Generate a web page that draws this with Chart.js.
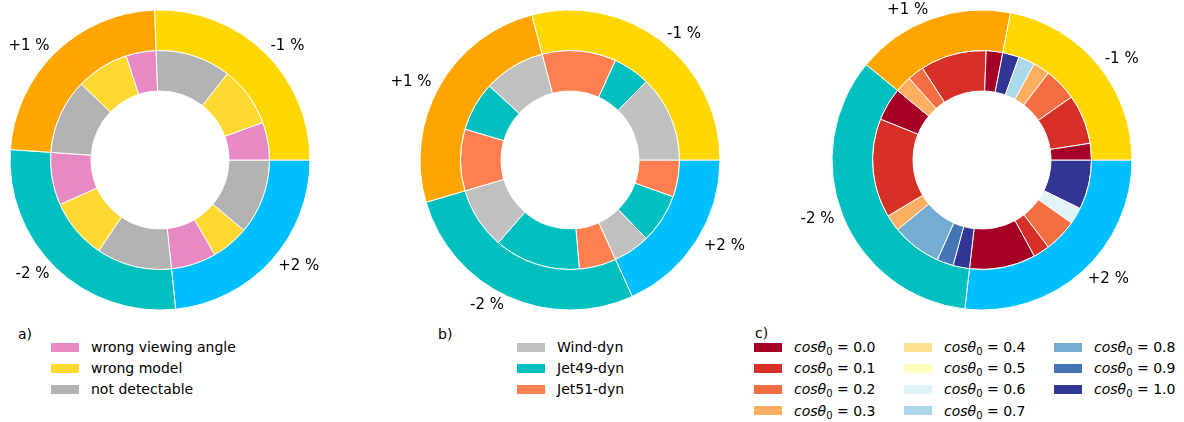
<!DOCTYPE html>
<html>
<head>
<meta charset="utf-8">
<script src="https://cdn.jsdelivr.net/npm/chart.js@4.4.0/dist/chart.umd.min.js"></script>
<style>
body{margin:0;width:1184px;height:422px;overflow:hidden;background:#fff;position:relative;
  font-family:"DejaVu Sans",sans-serif;color:#000}
canvas{position:absolute;top:0}
.tag,.txt{position:absolute;font-size:14px;line-height:16px;white-space:nowrap}
.sw{position:absolute;width:28px;height:9px}
.sub{font-size:10px;position:relative;top:3px}
</style>
</head>
<body>
<canvas id="pie-a" width="400" height="320" style="left:-40px"></canvas>
<canvas id="pie-b" width="400" height="320" style="left:370px"></canvas>
<canvas id="pie-c" width="400" height="320" style="left:782px"></canvas>
<div class="tag" style="left:18px;top:326px">a)</div>
<div class="tag" style="left:438px;top:326px">b)</div>
<div class="tag" style="left:755px;top:325px">c)</div>
<div id="legends"></div>
<script>
// outer ring: flux shift, same order for every panel (counter-clockwise from 3 o'clock)
const shiftLabels=['-1 %','+1 %','-2 %','+2 %'];
const shiftColors=['#FFD700','#FFA500','#00BFBF','#00BFFF'];

// a) why a shift was missed, counts per shift
const failLabels=['wrong viewing angle','wrong model','not detectable'];
const failColors=['#E78AC3','#FFD92F','#B3B3B3'];
const failAngle=[5,4,7,6];
const failModel=[8,7,8,5];
const failNone=[10,10,10,10];

// b) model of the best fit, counts per shift (drawn wind, jet49, jet51)
const modelLabels=['Wind-dyn','Jet49-dyn','Jet51-dyn'];
const modelColors=['#C0C0C0','#00BFBF','#FF7F50'];
const windDyn=[7,5,5,3];
const jet49Dyn=[3,4,7,4];
const jet51Dyn=[6,5,3,3];

// c) viewing angle, counts per shift for cos(theta0)=0.0 ... 1.0
const cosValues=['0.0','0.1','0.2','0.3','0.4','0.5','0.6','0.7','0.8','0.9','1.0'];
const cosColors=['#a50026','#d73027','#f46d43','#fdae61','#fee090','#ffffbf','#e0f3f8','#abd9e9','#74add1','#4575b4','#313695'];
const cosMinus1=[1,3,2,1,0,0,0,1,0,0,1];
const cosPlus1 =[1,4,1,1,0,0,0,0,0,0,0];
const cosMinus2=[2,6,0,1,0,0,0,0,3,1,1];
const cosPlus2 =[4,1,2,0,0,0,1,0,0,0,3];

// shift labels just outside the outer ring
const ringLabels={
  id:'ringLabels',
  afterDraw(chart){
    let ctx=chart.ctx, meta=chart.getDatasetMeta(0);
    ctx.save();
    ctx.font='15px "DejaVu Sans"'; ctx.fillStyle='#000'; ctx.textBaseline='middle';
    meta.data.forEach((arc,i)=>{
      let p=arc.getProps(['x','y','startAngle','endAngle','outerRadius']);
      let mid=(p.startAngle+p.endAngle)/2, r=p.outerRadius*1.06;
      ctx.textAlign=Math.cos(mid)>0?'left':'right';
      ctx.fillText(chart.data.labels[i], p.x+r*Math.cos(mid), p.y+r*Math.sin(mid));
    });
    ctx.restore();
  }
};

// rows[shift][category] -> inner ring; outer ring is the row sums
function makeRing(id, rows, colors){
  let outer=rows.map(r=>r.reduce((a,b)=>a+b,0));
  let inner=[], innerCol=[];
  rows.forEach(r=>r.forEach((v,j)=>{ if(v>0){ inner.push(v); innerCol.push(colors[j]); } }));
  // chart.js runs clockwise from 12 o'clock, so flip order and start at 3 o'clock
  return new Chart(document.getElementById(id),{
    type:'doughnut',
    data:{
      labels:[...shiftLabels].reverse(),
      datasets:[
        {data:outer.reverse(), backgroundColor:[...shiftColors].reverse()},
        {data:inner.reverse(), backgroundColor:innerCol.reverse()}
      ]
    },
    options:{
      responsive:false, animation:false, events:[],
      radius:150, cutout:'46%', rotation:90,
      borderColor:'#fff', borderWidth:1,
      plugins:{legend:{display:false}, tooltip:{enabled:false}}
    },
    plugins:[ringLabels]
  });
}

let zip=(...cols)=>shiftLabels.map((s,i)=>cols.map(c=>c[i]));
makeRing('pie-a', zip(failAngle,failModel,failNone), failColors);
makeRing('pie-b', zip(windDyn,jet49Dyn,jet51Dyn), modelColors);
makeRing('pie-c', [cosMinus1,cosPlus1,cosMinus2,cosPlus2], cosColors);

// legends
let legendBox=document.getElementById('legends');
function addItem(x, y, color, html){
  let sw=document.createElement('div'); sw.className='sw';
  sw.style.left=x+'px'; sw.style.top=(y-4.5)+'px'; sw.style.background=color;
  let t=document.createElement('div'); t.className='txt';
  t.style.left=(x+40)+'px'; t.style.top=(y-8)+'px'; t.innerHTML=html;
  legendBox.appendChild(sw); legendBox.appendChild(t);
}
failLabels.forEach((l,i)=>addItem(51, 347+21.2*i, failColors[i], l));
modelLabels.forEach((l,i)=>addItem(517, 347+21.2*i, modelColors[i], l));
cosValues.forEach((v,i)=>{
  let col=Math.floor(i/4), row=i%4;
  addItem(754+150*col, 347+21.2*row, cosColors[i], `<i>cosθ</i><span class="sub">0</span> = ${v}`);
});
</script>
</body>
</html>
